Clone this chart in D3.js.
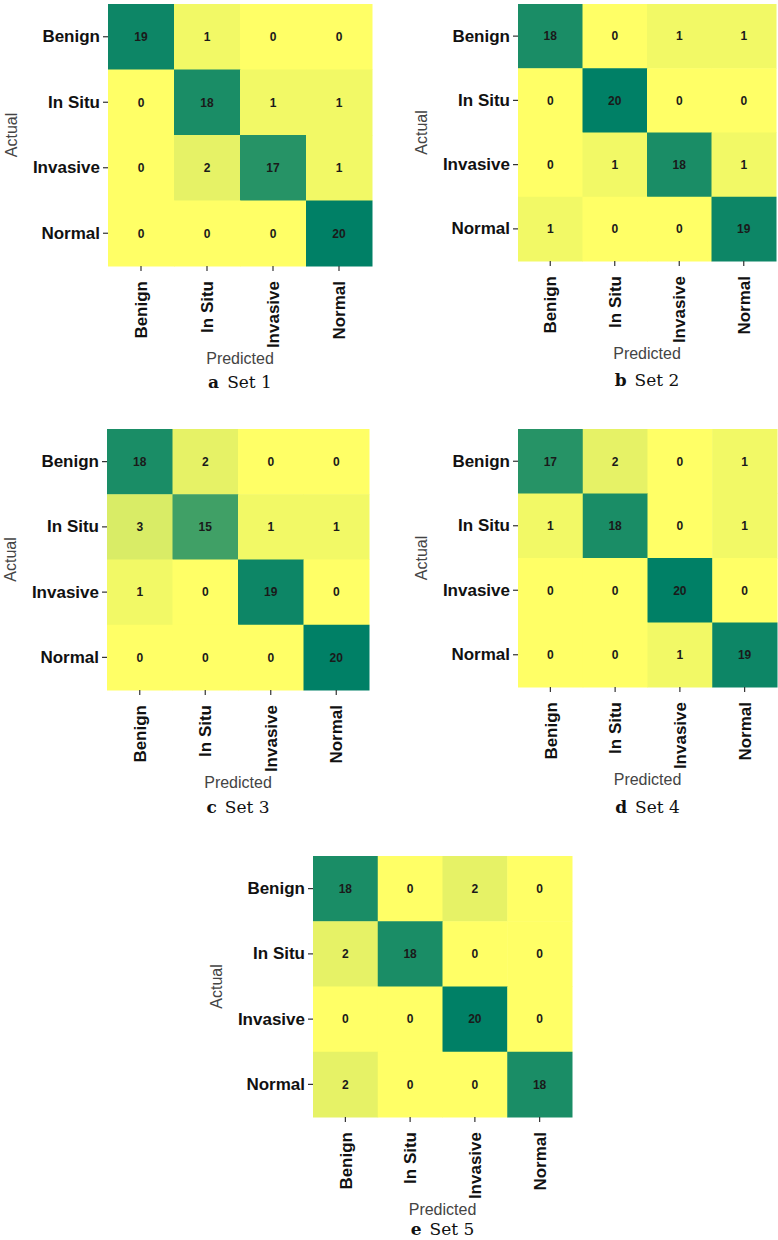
<!DOCTYPE html>
<html>
<head>
<meta charset="utf-8">
<script src="https://cdn.jsdelivr.net/npm/d3@7"></script>
<style>
  html, body { margin: 0; padding: 0; background: #fff; }
  svg { display: block; }
</style>
</head>
<body>
<svg id="chart" width="778" height="1240"></svg>
<script>
// ---- Data ----
const categories = ["Benign", "In Situ", "Invasive", "Normal"];
const set1 = [[19, 1, 0, 0], [0, 18, 1, 1], [0, 2, 17, 1], [0, 0, 0, 20]];
const set2 = [[18, 0, 1, 1], [0, 20, 0, 0], [0, 1, 18, 1], [1, 0, 0, 19]];
const set3 = [[18, 2, 0, 0], [3, 15, 1, 1], [1, 0, 19, 0], [0, 0, 0, 20]];
const set4 = [[17, 2, 0, 1], [1, 18, 0, 1], [0, 0, 20, 0], [0, 0, 1, 19]];
const set5 = [[18, 0, 2, 0], [2, 18, 0, 0], [0, 0, 20, 0], [2, 0, 0, 18]];
const captionLetters = ["a", "b", "c", "d", "e"];
const captionTitles = ["Set 1", "Set 2", "Set 3", "Set 4", "Set 5"];
const xAxisTitle = "Predicted";
const yAxisTitle = "Actual";

// ---- Layout (heatmap boxes) ----
const matrices = [set1, set2, set3, set4, set5];
const boxes = [
  { x: 108, y: 4,   w: 264, h: 262, cap: 122 },
  { x: 518, y: 4,   w: 258, h: 257, cap: 125 },
  { x: 107, y: 429, w: 262, h: 261, cap: 123 },
  { x: 518, y: 429, w: 259, h: 258, cap: 126 },
  { x: 313, y: 856, w: 259, h: 261, cap: 118 }
];

// summer_r colormap (linear in RGB)
const color = d3.scaleLinear().domain([0, 20])
  .range(["#ffff66", "#008066"]).interpolate(d3.interpolateRgb);

const svg = d3.select("#chart");

matrices.forEach((m, i) => {
  const b = boxes[i];
  const g = svg.append("g").attr("transform", `translate(${b.x},${b.y})`);
  const x = d3.scaleBand().domain(categories).range([0, b.w]).padding(0);
  const y = d3.scaleBand().domain(categories).range([0, b.h]).padding(0);

  const cells = [];
  m.forEach((row, r) => row.forEach((v, c) => cells.push({ r: categories[r], c: categories[c], v })));

  g.selectAll("rect.cell").data(cells).join("rect")
    .attr("class", "cell")
    .attr("x", d => x(d.c))
    .attr("y", d => y(d.r))
    .attr("width", x.bandwidth() + 0.5)
    .attr("height", y.bandwidth() + 0.5)
    .attr("fill", d => color(d.v));

  g.selectAll("text.val").data(cells).join("text")
    .attr("class", "val")
    .attr("x", d => x(d.c) + x.bandwidth() / 2)
    .attr("y", d => y(d.r) + y.bandwidth() / 2)
    .attr("dy", "0.36em")
    .attr("text-anchor", "middle")
    .attr("font-family", "Liberation Sans, Arial, sans-serif")
    .attr("font-weight", "bold")
    .attr("font-size", 12)
    .attr("fill", "#1a1a1a")
    .text(d => d.v);

  // Y axis
  const yAxis = g.append("g").call(d3.axisLeft(y).tickSize(5).tickPadding(3));
  yAxis.select(".domain").remove();
  yAxis.selectAll(".tick line").attr("stroke", "#333").attr("stroke-width", 1.2);
  yAxis.selectAll(".tick text")
    .attr("font-family", "Liberation Sans, Arial, sans-serif")
    .attr("font-weight", "bold")
    .attr("font-size", 17)
    .attr("fill", "#111");

  // X axis
  const xAxis = g.append("g").attr("transform", `translate(0,${b.h})`)
    .call(d3.axisBottom(x).tickSize(5).tickPadding(3));
  xAxis.select(".domain").remove();
  xAxis.selectAll(".tick line").attr("stroke", "#333").attr("stroke-width", 1.2);
  xAxis.selectAll(".tick text")
    .attr("font-family", "Liberation Sans, Arial, sans-serif")
    .attr("font-weight", "bold")
    .attr("font-size", 17)
    .attr("fill", "#111")
    .attr("text-anchor", "end")
    .attr("transform", "rotate(-90)")
    .attr("x", -15)
    .attr("y", 0)
    .attr("dy", "0.36em");

  // Axis titles
  g.append("text")
    .attr("transform", `translate(${-97},${b.h / 2}) rotate(-90)`)
    .attr("text-anchor", "middle")
    .attr("dy", "0.36em")
    .attr("font-family", "Liberation Sans, Arial, sans-serif")
    .attr("font-size", 16)
    .attr("fill", "#444")
    .text(yAxisTitle);

  g.append("text")
    .attr("x", b.w / 2)
    .attr("y", b.h + 92)
    .attr("dy", "0.36em")
    .attr("text-anchor", "middle")
    .attr("font-family", "Liberation Sans, Arial, sans-serif")
    .attr("font-size", 16)
    .attr("fill", "#444")
    .text(xAxisTitle);

  // Caption
  const cap = g.append("text")
    .attr("x", b.w / 2)
    .attr("y", b.h + b.cap)
    .attr("text-anchor", "middle")
    .attr("font-family", "DejaVu Serif, serif")
    .attr("font-size", 17)
    .attr("fill", "#111");
  cap.append("tspan").attr("font-weight", "bold").text(captionLetters[i]);
  cap.append("tspan").attr("dx", 8).text(captionTitles[i]);
});
</script>
</body>
</html>
